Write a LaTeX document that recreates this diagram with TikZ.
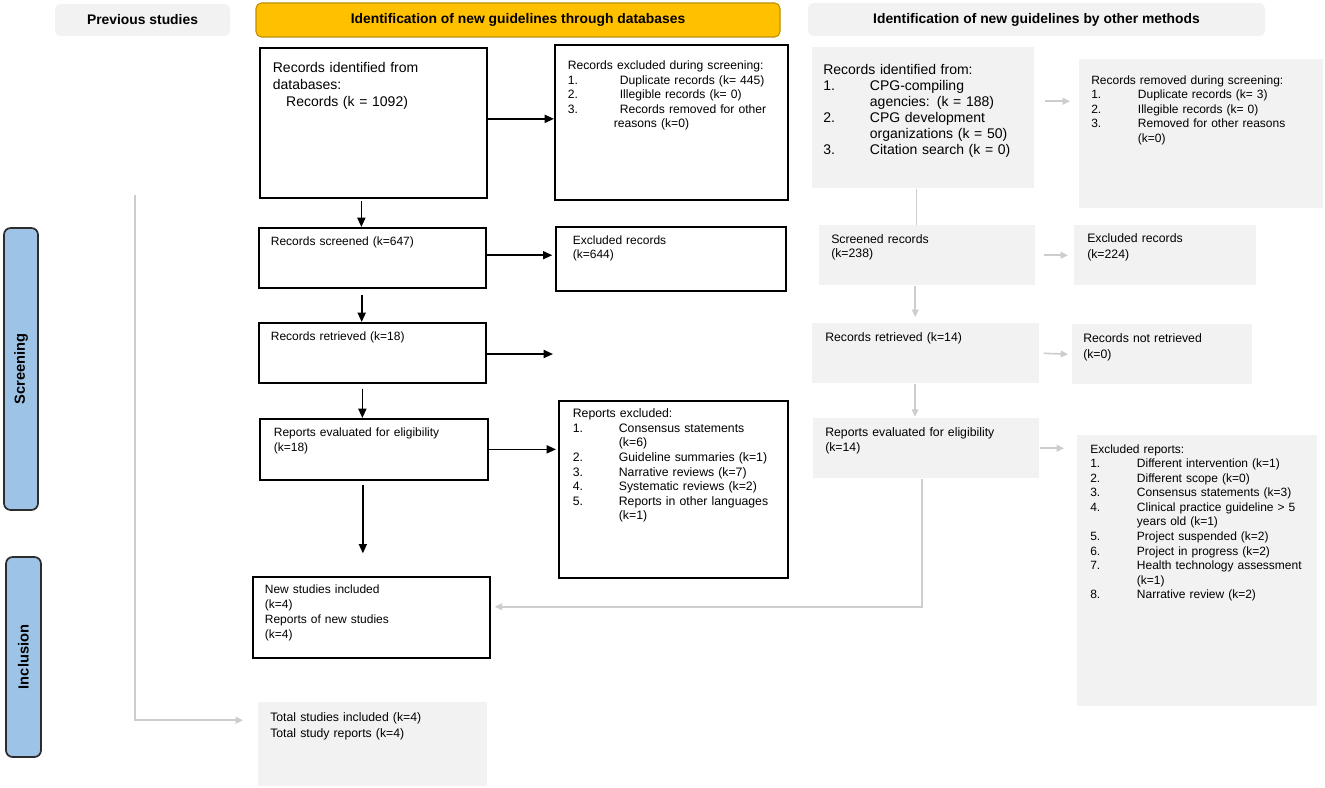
\documentclass[tikz,border=0pt]{standalone}
\usepackage{fontspec}
\setmainfont{Liberation Sans}
\usetikzlibrary{arrows.meta,calc}

\definecolor{boxgray}{RGB}{242,242,242}
\definecolor{linegray}{RGB}{205,205,205}
\definecolor{headyellow}{RGB}{255,192,0}
\definecolor{headedge}{RGB}{191,144,0}
\definecolor{sideblue}{RGB}{157,195,230}
\definecolor{sideedge}{RGB}{45,45,45}

\begin{document}
\begin{tikzpicture}[x=0.75pt,y=-0.75pt]

\tikzset{blk/.style={draw,line width=1.3pt,fill=white,anchor=north west,inner ysep=0pt,align=left},
  gry/.style={fill=boxgray,anchor=north west,inner ysep=0pt,align=left},
  head/.style={fill=boxgray,rounded corners=4pt,font=\bfseries\fontsize{10.4}{12}\selectfont},
  side/.style={draw=sideedge,fill=sideblue,line width=1.3pt,rounded corners=5pt,rotate=90,font=\bfseries\fontsize{11}{13}\selectfont},
  arr/.style={-{Triangle[length=7pt,width=6pt]},line width=1.3pt},
  garr/.style={-{Triangle[length=5.5pt,width=5pt]},draw=linegray,line width=1.2pt},
  gline/.style={draw=linegray,line width=1.2pt}}

  \useasboundingbox (0,0) rectangle (1325,788);

  % headers
  \node[head,minimum width=131.25pt,minimum height=24pt] (prev) at (142.5,20) {Previous studies};
  \node[head,fill=headyellow,draw=headedge,line width=0.8pt,minimum width=393pt,minimum height=25.5pt] (dbhead) at (518,20) {Identification of new guidelines through databases};
  \node[head,minimum width=342.75pt,minimum height=24.75pt] (othhead) at (1036.5,19.5) {Identification of new guidelines by other methods};

  \node[side,minimum width=211.5pt,minimum height=25.5pt] (scrlab) at (21,369) {Screening};
  \node[side,minimum width=150pt,minimum height=26.25pt] (inclab) at (23.5,657) {Inclusion};

  % databases
  \node[blk,inner xsep=9.75pt,text width=150.75pt,text height=18.75pt,text depth=93.75pt,font=\fontsize{10.5}{12.5}\selectfont] (recdb) at (259,47) {Records identified from\\databases:\\\hspace*{10pt}Records (k = 1092)};
  \node[blk,inner xsep=9.75pt,text width=155.25pt,text height=18.75pt,text depth=97.5pt,font=\fontsize{9.1}{10.9}\selectfont] (recexcl) at (554,44) {Records excluded during screening:\\
    \makebox[39pt][l]{1.}Duplicate records (k= 445)\\
    \makebox[39pt][l]{2.}Illegible records (k= 0)\\
    \makebox[39pt][l]{3.}Records removed for other\\
    \hspace*{34.5pt}reasons (k=0)};

  \node[blk,inner xsep=9pt,text width=152.25pt,text height=13.5pt,text depth=31.5pt,font=\fontsize{9}{10.5}\selectfont] (screened) at (258,227) {Records screened (k=647)};
  \node[blk,inner xsep=12.75pt,text width=147pt,text height=13.5pt,text depth=34.5pt,font=\fontsize{9}{10.5}\selectfont] (excl) at (555,226) {Excluded records\\(k=644)};

  \node[blk,inner xsep=9pt,text width=152.25pt,text height=13.5pt,text depth=31.5pt,font=\fontsize{9}{10.5}\selectfont] (retr) at (258,322) {Records retrieved (k=18)};
  \coordinate (retrend) at (553,354);

  \node[blk,inner xsep=10.5pt,text width=150pt,text height=13.5pt,text depth=32.25pt,font=\fontsize{9}{11.25}\selectfont] (evalrep) at (259,418) {Reports evaluated for eligibility\\(k=18)};
  \node[blk,inner xsep=10.5pt,text width=150.75pt,text height=12.75pt,text depth=120pt,font=\fontsize{9.2}{10.9}\selectfont] (rexcl) at (558,400) {Reports excluded:\\
    \makebox[34.5pt][l]{1.}Consensus statements\\
    \hspace*{34.5pt}(k=6)\\
    \makebox[34.5pt][l]{2.}Guideline summaries (k=1)\\
    \makebox[34.5pt][l]{3.}Narrative reviews (k=7)\\
    \makebox[34.5pt][l]{4.}Systematic reviews (k=2)\\
    \makebox[34.5pt][l]{5.}Reports in other languages\\
    \hspace*{34.5pt}(k=1)};

  \node[blk,inner xsep=9pt,text width=159.75pt,text height=12.75pt,text depth=48pt,font=\fontsize{9}{11.25}\selectfont] (newst) at (252,576) {New studies included\\(k=4)\\Reports of new studies\\(k=4)};
  \node[gry,inner xsep=9pt,text width=153.75pt,text height=14.25pt,text depth=48.75pt,font=\fontsize{9.2}{12}\selectfont] (total) at (258,702) {Total studies included (k=4)\\Total study reports (k=4)};

  % other methods
  \node[gry,inner xsep=8.25pt,text width=150pt,text height=20.25pt,text depth=85.5pt,font=\fontsize{10.5}{12}\selectfont] (cpg) at (812,47) {Records identified from:\\
    \makebox[35pt][l]{1.}CPG-compiling\\
    \hspace*{35pt}agencies: (k = 188)\\
    \makebox[35pt][l]{2.}CPG development\\
    \hspace*{35pt}organizations (k = 50)\\
    \makebox[35pt][l]{3.}Citation search (k = 0)};
  \node[gry,inner xsep=9pt,text width=165pt,text height=18.75pt,text depth=93pt,font=\fontsize{9}{10.9}\selectfont] (remscr) at (1079,59) {Records removed during screening:\\
    \makebox[35pt][l]{1.}Duplicate records (k= 3)\\
    \makebox[35pt][l]{2.}Illegible records (k= 0)\\
    \makebox[35pt][l]{3.}Removed for other reasons\\
    \hspace*{35pt}(k=0)};

  \node[gry,inner xsep=9pt,text width=144pt,text height=13.5pt,text depth=31.5pt,font=\fontsize{9.2}{10.5}\selectfont] (scrn2) at (819,225) {Screened records\\(k=238)};
  \node[gry,inner xsep=9.75pt,text width=117pt,text height=12.75pt,text depth=32.25pt,font=\fontsize{9.2}{12}\selectfont] (excl2) at (1074,225) {Excluded records\\(k=224)};
  \node[gry,inner xsep=9.75pt,text width=150.75pt,text height=13.5pt,text depth=31.5pt,font=\fontsize{9.2}{11}\selectfont] (retr2) at (812,323) {Records retrieved (k=14)};
  \node[gry,inner xsep=8.25pt,text width=118.5pt,text height=13.5pt,text depth=31.5pt,font=\fontsize{9.2}{12}\selectfont] (notret) at (1072,324) {Records not retrieved\\(k=0)};
  \node[gry,inner xsep=9pt,text width=151.5pt,text height=13.5pt,text depth=31.5pt,font=\fontsize{9.2}{11.25}\selectfont] (eval2) at (813,418) {Reports evaluated for eligibility\\(k=14)};
  \node[gry,inner xsep=9.75pt,text width=160.5pt,text height=13.5pt,text depth=189.75pt,font=\fontsize{9}{10.9}\selectfont] (exrep) at (1077,435) {Excluded reports:\\
    \makebox[35pt][l]{1.}Different intervention (k=1)\\
    \makebox[35pt][l]{2.}Different scope (k=0)\\
    \makebox[35pt][l]{3.}Consensus statements (k=3)\\
    \makebox[35pt][l]{4.}Clinical practice guideline > 5\\
    \hspace*{35pt}years old (k=1)\\
    \makebox[35pt][l]{5.}Project suspended (k=2)\\
    \makebox[35pt][l]{6.}Project in progress (k=2)\\
    \makebox[35pt][l]{7.}Health technology assessment\\
    \hspace*{35pt}(k=1)\\
    \makebox[35pt][l]{8.}Narrative review (k=2)};

  \coordinate (prevtop) at (135,195);

  % black arrows
  \draw[arr] ($(recdb.south)+(-9pt,-2pt)$) -- ($(recdb.south |- screened.north)+(-9pt,0)$);
  \draw[arr] ($(screened.south)+(-8pt,-4.5pt)$) -- ($(screened.south |- retr.north)+(-8pt,0)$);
  \draw[arr] ($(retr.south)+(-7.5pt,-3.75pt)$) -- ($(retr.south |- evalrep.north)+(-7.5pt,0)$);
  \draw[arr] ($(evalrep.south)+(-8.25pt,-3pt)$) -- ($(evalrep.south |- newst.north)+(-8.25pt,17pt)$);

  \draw[arr] ($(recdb.east)+(0,3pt)$) -- ($(recdb.east -| recexcl.west)+(0,3pt)$);
  \draw[arr] ($(screened.east)+(0,2pt)$) -- ($(screened.east -| excl.west)+(-2pt,2pt)$);
  \draw[arr] (retr.east |- retrend) -- (retrend);
  \draw[arr] (evalrep.east) -- ($(evalrep.east -| rexcl.west)+(-1.5pt,0)$);

  % grey connectors
  \draw[gline] ($(cpg.south)+(-5pt,0)$) -- ($(cpg.south |- scrn2.north)+(-5pt,0)$);
  \draw[garr] ($(scrn2.south)+(-9pt,0)$) -- ($(scrn2.south |- retr2.north)+(-9pt,4.5pt)$);
  \draw[garr] ($(retr2.south)+(-8pt,0)$) -- ($(retr2.south |- eval2.north)+(-8pt,1pt)$);
  \draw[garr] ($(eval2.south)+(-3pt,0)$) |- ($(newst.east)+(3pt,8pt)$);

  \draw[garr] ($(cpg.east)+(8pt,12.4pt)$) -- ($(remscr.west)+(-6.75pt,24.4pt)$);
  \draw[garr] ($(scrn2.east)+(6pt,0)$) -- ($(excl2.west)+(-4.5pt,0)$);
  \draw[garr] ($(retr2.east)+(3pt,0)$) -- ($(notret.west)+(-3pt,0)$);
  \draw[garr] (eval2.east) -- ($(eval2.east -| exrep.west)+(-9.75pt,0)$);

  \draw[garr] (prevtop) |- ($(total.west)+(-11.25pt,18pt)$);

\end{tikzpicture}
\end{document}
